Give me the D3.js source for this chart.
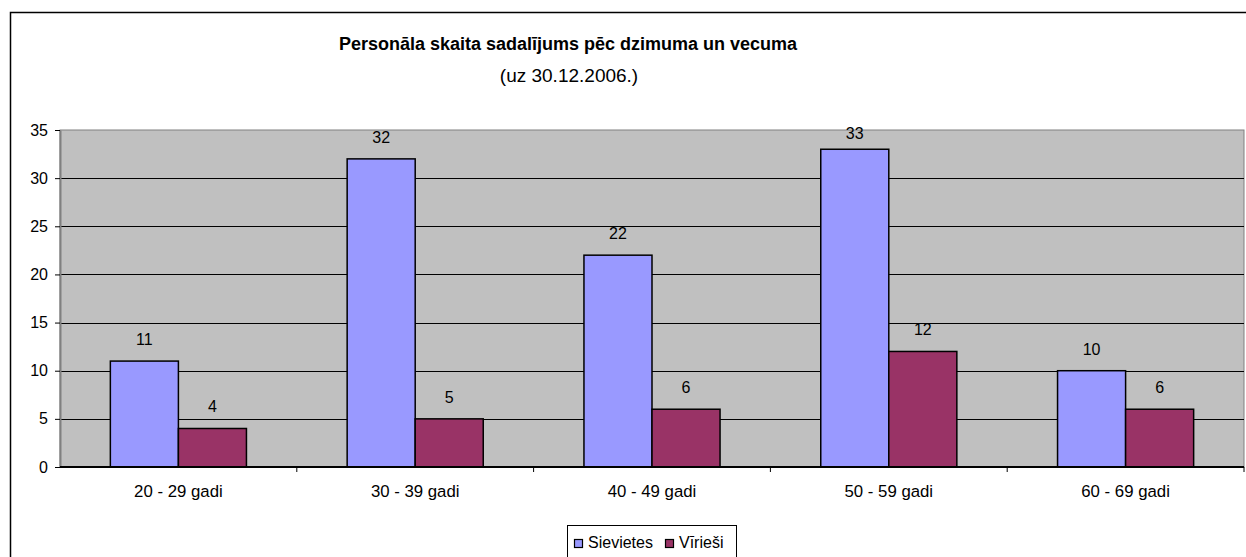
<!DOCTYPE html>
<html>
<head>
  <meta charset="utf-8">
  <title>Personāla skaita sadalījums</title>
  <style>
    body { margin: 0; background: #fff; }
    text { font-family: "Liberation Sans", Arial, sans-serif; fill: #000; }
    .axis path { stroke: #808080; }
    .axis line { stroke: #000; }
    .grid line { stroke: #000; }
  </style>
</head>
<body>
  <div id="chart"></div>
  <script src="https://d3js.org/d3.v7.min.js"></script>
  <script>
    var categories = ["20 - 29 gadi", "30 - 39 gadi", "40 - 49 gadi", "50 - 59 gadi", "60 - 69 gadi"];
    var seriesNames = ["Sievietes", "Vīrieši"];
    var sievietes = [11, 32, 22, 33, 10];
    var viriesi = [4, 5, 6, 12, 6];
    var yTicks = [0, 5, 10, 15, 20, 25, 30, 35];
    var colors = ["#9999ff", "#993366"];

    var width = 1246, height = 557;
    var plot = {left: 60, top: 130, right: 1244, bottom: 467};

    var svg = d3.select("#chart").append("svg")
        .attr("width", width)
        .attr("height", height);

    // outer chart border (runs off the right and bottom edges)
    svg.append("rect")
        .attr("x", 10.5).attr("y", 12.5)
        .attr("width", 1250).attr("height", 560)
        .attr("fill", "#fff")
        .attr("stroke", "#000").attr("stroke-width", 1.5);

    var x = d3.scaleBand()
        .domain(categories)
        .range([plot.left, plot.right]);

    var xInner = d3.scaleBand()
        .domain(seriesNames)
        .range([0, x.bandwidth()])
        .paddingInner(0)
        .paddingOuter(0.74);

    var y = d3.scaleLinear()
        .domain([0, 35])
        .range([plot.bottom, plot.top]);

    // plot area
    svg.append("rect")
        .attr("x", plot.left).attr("y", plot.top)
        .attr("width", plot.right - plot.left).attr("height", plot.bottom - plot.top)
        .attr("fill", "#c0c0c0")
        .attr("stroke", "#808080").attr("stroke-width", 1);

    svg.append("g")
        .attr("class", "grid")
      .selectAll("line")
      .data(yTicks.slice(1, -1))
      .enter().append("line")
        .attr("x1", plot.left).attr("x2", plot.right)
        .attr("y1", function(d) { return Math.round(y(d)) + 0.5; })
        .attr("y2", function(d) { return Math.round(y(d)) + 0.5; });

    var rows = categories.map(function(c, i) {
      return {cat: c, values: [sievietes[i], viriesi[i]]};
    });

    var groups = svg.append("g").selectAll("g")
      .data(rows)
      .enter().append("g")
        .attr("transform", function(d) { return "translate(" + x(d.cat) + ",0)"; });

    var bars = groups.selectAll("g")
      .data(function(d) {
        return d.values.map(function(v, j) { return {name: seriesNames[j], value: v, j: j}; });
      })
      .enter().append("g");

    bars.append("rect")
        .attr("x", function(d) { return xInner(d.name); })
        .attr("y", function(d) { return y(d.value); })
        .attr("width", xInner.bandwidth())
        .attr("height", function(d) { return y(0) - y(d.value); })
        .attr("fill", function(d) { return colors[d.j]; })
        .attr("stroke", "#000").attr("stroke-width", 1.5);

    // labels sit above the bar but are kept inside the plot area
    bars.append("text")
        .attr("x", function(d) { return xInner(d.name) + xInner.bandwidth() / 2; })
        .attr("y", function(d) { return Math.max(y(d.value) - 16, plot.top + 9); })
        .attr("text-anchor", "middle")
        .attr("font-size", 16)
        .text(function(d) { return d.value; });

    // axes
    var yAxis = svg.append("g")
        .attr("class", "axis")
        .attr("transform", "translate(" + plot.left + ",0)")
        .call(d3.axisLeft(y).tickValues(yTicks).tickSize(5).tickSizeOuter(0).tickPadding(7));
    yAxis.selectAll("text").attr("font-size", 16).attr("font-family", null);
    yAxis.select(".domain").attr("stroke-width", 2);

    var xAxis = svg.append("g")
        .attr("class", "axis")
        .attr("transform", "translate(0," + plot.bottom + ")");
    xAxis.append("line")
        .attr("x1", plot.left).attr("x2", plot.right)
        .attr("stroke", "#404040")
        .attr("stroke-width", 2);
    xAxis.selectAll("line.tick")
      .data(categories)
      .enter().append("line")
        .attr("class", "tick")
        .attr("x1", function(d) { return x(d) + x.bandwidth(); })
        .attr("x2", function(d) { return x(d) + x.bandwidth(); })
        .attr("y1", 0).attr("y2", 5);
    xAxis.selectAll("text")
      .data(categories)
      .enter().append("text")
        .attr("x", function(d) { return x(d) + x.bandwidth() / 2; })
        .attr("y", 30)
        .attr("text-anchor", "middle")
        .attr("font-size", 16.8)
        .text(function(d) { return d; });

    // title
    svg.append("text")
        .attr("x", 568).attr("y", 50)
        .attr("text-anchor", "middle")
        .attr("font-size", 18).attr("font-weight", "bold")
        .text("Personāla skaita sadalījums pēc dzimuma un vecuma");
    svg.append("text")
        .attr("x", 569).attr("y", 82)
        .attr("text-anchor", "middle")
        .attr("font-size", 19)
        .text("(uz 30.12.2006.)");

    // legend (box runs off the bottom edge)
    var legend = svg.append("g").attr("transform", "translate(567,525)");
    legend.append("rect")
        .attr("x", 0.5).attr("y", 0.5)
        .attr("width", 169).attr("height", 40)
        .attr("fill", "#fff").attr("stroke", "#000");
    var lx = [7, 98];
    var items = legend.selectAll("g.item")
      .data(seriesNames)
      .enter().append("g")
        .attr("class", "item")
        .attr("transform", function(d, i) { return "translate(" + lx[i] + ",0)"; });
    items.append("rect")
        .attr("x", 0.5).attr("y", 14.5)
        .attr("width", 8).attr("height", 8)
        .attr("fill", function(d, i) { return colors[i]; })
        .attr("stroke", "#000").attr("stroke-width", 1.2);
    items.append("text")
        .attr("x", 14).attr("y", 23)
        .attr("font-size", 16)
        .text(function(d) { return d; });
  </script>
</body>
</html>
